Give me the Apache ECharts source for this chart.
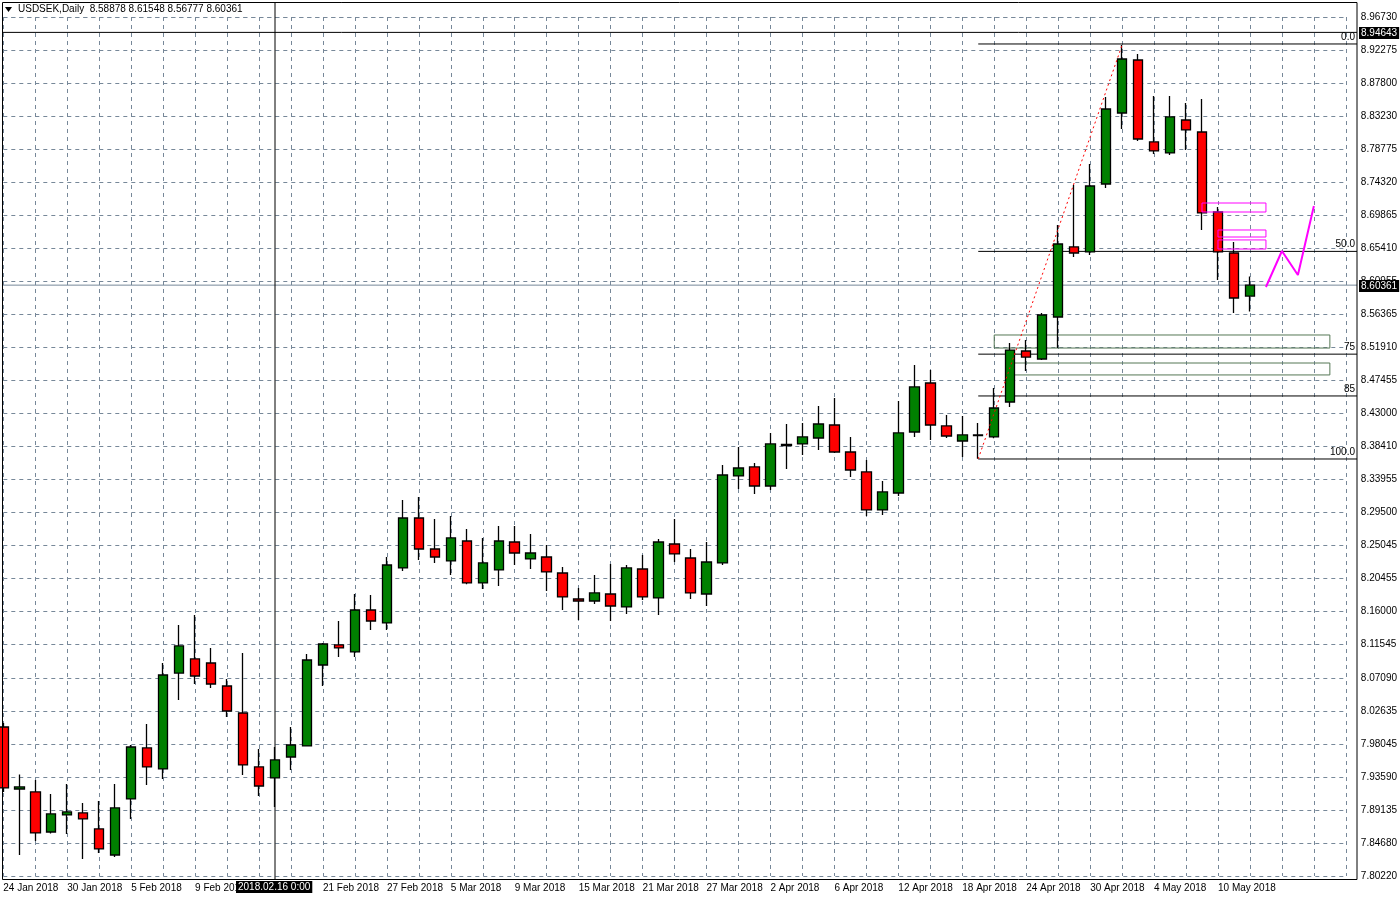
<!DOCTYPE html>
<html>
<head>
<meta charset="utf-8">
<script src="https://cdn.jsdelivr.net/npm/echarts@6/dist/echarts.min.js"></script>
<style>html,body{margin:0;padding:0;background:#fff}#chart{width:1400px;height:900px}</style>
</head>
<body>
<div id="chart"></div>
<script>
// trading days shown on the chart (blank slots = empty space to the right)
const dates = [
  '24 Jan 2018','25 Jan 2018','26 Jan 2018','29 Jan 2018','30 Jan 2018','31 Jan 2018',
  '1 Feb 2018','2 Feb 2018','5 Feb 2018','6 Feb 2018','7 Feb 2018','8 Feb 2018','9 Feb 2018',
  '12 Feb 2018','13 Feb 2018','14 Feb 2018','15 Feb 2018','16 Feb 2018','19 Feb 2018','20 Feb 2018',
  '21 Feb 2018','22 Feb 2018','23 Feb 2018','26 Feb 2018','27 Feb 2018','28 Feb 2018',
  '1 Mar 2018','2 Mar 2018','5 Mar 2018','6 Mar 2018','7 Mar 2018','8 Mar 2018','9 Mar 2018',
  '12 Mar 2018','13 Mar 2018','14 Mar 2018','15 Mar 2018','16 Mar 2018','19 Mar 2018','20 Mar 2018',
  '21 Mar 2018','22 Mar 2018','23 Mar 2018','26 Mar 2018','27 Mar 2018','28 Mar 2018','29 Mar 2018','30 Mar 2018',
  '2 Apr 2018','3 Apr 2018','4 Apr 2018','5 Apr 2018','6 Apr 2018','9 Apr 2018','10 Apr 2018',
  '11 Apr 2018','12 Apr 2018','13 Apr 2018','16 Apr 2018','17 Apr 2018','18 Apr 2018','19 Apr 2018',
  '20 Apr 2018','23 Apr 2018','24 Apr 2018','25 Apr 2018','26 Apr 2018','27 Apr 2018','30 Apr 2018',
  '1 May 2018','2 May 2018','3 May 2018','4 May 2018','7 May 2018','8 May 2018','9 May 2018',
  '10 May 2018','11 May 2018','14 May 2018',
  '','','','','',''
];

const opens = [8.0043,7.9202,7.9162,7.8619,7.8850,7.8877,7.8660,7.8307,7.9067,7.9759,7.9474,8.0775,8.0966,8.0911,8.0599,8.0233,7.9501,7.9352,7.9636,7.9786,8.0884,8.1156,8.1061,8.1630,8.1454,8.2200,8.2878,8.2457,8.2295,8.2566,8.1997,8.2173,8.2552,8.2322,8.2349,8.2132,8.1779,8.1752,8.1847,8.1671,8.2186,8.1793,8.2525,8.2335,8.1847,8.2268,8.3448,8.3570,8.3312,8.3861,8.3882,8.3963,8.4139,8.3773,8.3502,8.2987,8.3217,8.4044,8.4709,8.4126,8.3922,8.3995,8.3977,8.4451,8.5143,8.5034,8.5604,8.6554,8.6486,8.7408,8.8371,8.9090,8.7978,8.7829,8.8276,8.8113,8.7028,8.6472,8.58878];
const closes = [7.9216,7.9230,7.8606,7.8864,7.8891,7.8796,7.8389,7.8945,7.9772,7.9501,8.0748,8.1142,8.0735,8.0626,8.0260,7.9528,7.9243,7.9596,7.9799,8.0952,8.1169,8.1115,8.1630,8.1481,8.2240,8.2878,8.2457,8.2349,8.2607,8.1997,8.2268,8.2566,8.2403,8.2403,8.2146,8.1807,8.1752,8.1861,8.1684,8.2200,8.1807,8.2552,8.2390,8.1861,8.2281,8.3461,8.3556,8.3312,8.3882,8.3875,8.3977,8.4153,8.3773,8.3529,8.2987,8.3231,8.4031,8.4655,8.4139,8.3990,8.4004,8.4004,8.4370,8.5156,8.5061,8.5631,8.6594,8.6472,8.7381,8.8425,8.9103,8.8018,8.7856,8.8317,8.8141,8.7015,8.6486,8.5862,8.60361];
const lows = [7.9160,7.8307,7.8497,7.8600,7.8592,7.8253,7.8334,7.8280,7.8796,7.9257,7.9338,8.0409,8.0626,8.0572,8.0179,7.9392,7.9108,7.8958,7.9460,7.9780,8.0599,8.0993,8.0993,8.1359,8.1359,8.2159,8.2308,8.2268,8.2105,8.1980,8.1915,8.1956,8.2240,8.2186,8.1888,8.1630,8.1495,8.1711,8.1481,8.1576,8.1766,8.1562,8.2281,8.1779,8.1684,8.2240,8.3271,8.3203,8.3258,8.3543,8.3733,8.3800,8.3760,8.3434,8.2905,8.2919,8.3176,8.3977,8.3936,8.3963,8.3705,8.3680,8.3960,8.4383,8.4872,8.5020,8.5183,8.6418,8.6445,8.7354,8.8154,8.7991,8.7815,8.7802,8.7869,8.6784,8.6106,8.5658,8.56777];
const highs = [8.0097,7.9400,7.9325,7.9135,7.9270,7.9013,7.9040,7.9270,7.9799,8.0084,8.0911,8.1427,8.1562,8.1115,8.0694,8.1047,7.9745,7.9772,8.0043,8.1033,8.1183,8.1481,8.1848,8.1834,8.2349,8.3122,8.3163,8.2864,8.2905,8.2729,8.2607,8.2770,8.2770,8.2661,8.2512,8.2213,8.1929,8.2105,8.2254,8.2240,8.2376,8.2593,8.2864,8.2457,8.2552,8.3597,8.3841,8.3624,8.4031,8.4153,8.4167,8.4397,8.4506,8.3977,8.3665,8.3380,8.4465,8.4953,8.4885,8.4275,8.4261,8.4167,8.4641,8.5251,8.5292,8.5658,8.6852,8.7394,8.7679,8.8588,8.9293,8.9171,8.8602,8.8602,8.8507,8.8561,8.7096,8.6622,8.61548];

const priceTicks = ['7.80220','7.84680','7.89135','7.93590','7.98045','8.02635','8.07090','8.11545','8.16000','8.20455','8.25045','8.29500','8.33955','8.38410','8.43000','8.47455','8.51910','8.56365','8.60955','8.65410','8.69865','8.74320','8.78775','8.83230','8.87800','8.92275','8.96730'];
const yMin = 7.80220, yMax = 8.96730;

// horizontal lines [start index, end index, price, label, colour] — run to the chart frame
const hLines = [
  [60.9,84,8.9307,'0.0','#000'],[60.9,84,8.6494,'50.0','#000'],[60.9,84,8.5100,'75','#000'],
  [60.9,84,8.4533,'85','#000'],[60.9,84,8.3678,'100.0','#000'],
  [0,84,8.94643,'','#000'],[0,84,8.60361,'','#778899']
];
const crossBar = 17;
// boxes [x0, x1, top price, bottom price]
const greyBoxes = [[61.8,83.0,8.5360,8.5183],[63.3,83.0,8.4980,8.4818]];
const pinkBoxes = [[75.0,79.0,8.7150,8.7028],[76.0,79.0,8.6784,8.6689],[76.0,79.0,8.6649,8.6526]];
const trendPts = [[61,8.3680],[70,8.9293]];
const forecastPts = [[79,8.6011],[80,8.6499],[81,8.6174],[82,8.7110]];

const chart = echarts.init(document.getElementById('chart'));
const font = 'Liberation Sans';
const frameLeft = 3, frameRight = 1357, frameTop = 3, frameBottom = 879;

function boxSeries(boxes, color, z){
  return {
    type:'custom', z:z, silent:true, clip:false,
    data: boxes,
    renderItem:function(params, api){
      const a = api.coord([api.value(0), api.value(2)]);
      const b = api.coord([api.value(1), api.value(3)]);
      return {type:'rect', shape:{x:a[0],y:a[1],width:b[0]-a[0],height:b[1]-a[1]},
        style:{fill:null, stroke:color, lineWidth:1}};
    }
  };
}

const option = {
  animation:false,
  backgroundColor:'#fff',
  grid:{left:3.3, right:52.7, top:17, bottom:24, containLabel:false},
  xAxis:{
    type:'category', data:dates, boundaryGap:false,
    axisLine:{show:false}, axisTick:{show:false},
    axisLabel:{interval:3, align:'left', margin:7, color:'#000', fontFamily:font, fontSize:10,
      formatter:v=>v==='15 Feb 2018'?'':v},
    splitLine:{show:true, interval:1, lineStyle:{color:'#778899', type:[4,4], width:1}}
  },
  yAxis:{
    type:'value', position:'right', min:yMin, max:yMax, interval:(yMax-yMin)/26,
    axisLine:{show:false}, axisTick:{show:false},
    axisLabel:{margin:15, color:'#000', fontFamily:font, fontSize:10,
      formatter:v=>priceTicks[Math.round((v-yMin)/((yMax-yMin)/26))] || ''},
    splitLine:{show:true, lineStyle:{color:'#778899', type:[4,4], width:1}}
  },
  series:[
    {
      type:'candlestick', barWidth:10, z:3,
      data: opens.map((o,i)=>[o, closes[i], lows[i], highs[i]]),
      itemStyle:{color:'#008000', color0:'#ff0000', borderColor:'#000', borderColor0:'#000', borderWidth:1.3}
    },
    {
      type:'custom', z:2, silent:true, clip:false,
      data: hLines,
      renderItem:function(params, api){
        const d = hLines[params.dataIndex];
        const a = api.coord([d[0], d[2]]);
        const b = api.coord([d[1], d[2]]);
        const x1 = d[0] === 0 ? frameLeft : a[0];
        const x2 = frameRight;
        return {type:'group', children:[
          {type:'line', shape:{x1:x1,y1:a[1],x2:x2,y2:a[1]}, style:{stroke:d[4], lineWidth:1}},
          {type:'text', x:x2-2, y:a[1]-2, style:{text:d[3], fill:'#000',
            font:'10px '+font, align:'right', verticalAlign:'bottom'}}
        ]};
      }
    },
    {
      type:'custom', z:2, silent:true, clip:false,
      data:[[crossBar, yMin]],
      renderItem:function(params, api){
        const p = api.coord([api.value(0), api.value(1)]);
        return {type:'line', shape:{x1:p[0],y1:frameTop,x2:p[0],y2:frameBottom}, style:{stroke:'#000', lineWidth:1}};
      }
    },
    boxSeries(greyBoxes, '#557755', 2),
    boxSeries(pinkBoxes, '#ff00ff', 4),
    {type:'line', data:trendPts, symbol:'none', z:4, lineStyle:{color:'#ff0000', type:[2,3], width:1}},
    {type:'line', data:forecastPts, symbol:'none', z:4, lineStyle:{color:'#ff00ff', width:2}}
  ],
  graphic:[
    {type:'rect', z:100, shape:{x:2.5,y:2.5,width:1354.5,height:877}, style:{fill:null, stroke:'#000', lineWidth:1}},
    {type:'polygon', z:100, shape:{points:[[5,7],[12,7],[8.5,12]]}, style:{fill:'#000'}},
    {type:'text', z:100, left:18, top:4, style:{text:'USDSEK,Daily  8.58878 8.61548 8.56777 8.60361', fill:'#000', font:'10px '+font}},
    {type:'text', z:100, left:236, top:881, style:{text:'2018.02.16 0:00', fill:'#fff', backgroundColor:'#000', padding:[1,2], font:'10px '+font}},
    {type:'text', z:100, left:1359, top:27, style:{text:'8.94643', fill:'#fff', backgroundColor:'#000', padding:[1,2], font:'10px '+font}},
    {type:'text', z:100, left:1359, top:280, style:{text:'8.60361', fill:'#fff', backgroundColor:'#000', padding:[1,2], font:'10px '+font}}
  ]
};
chart.setOption(option);
</script>
</body>
</html>
